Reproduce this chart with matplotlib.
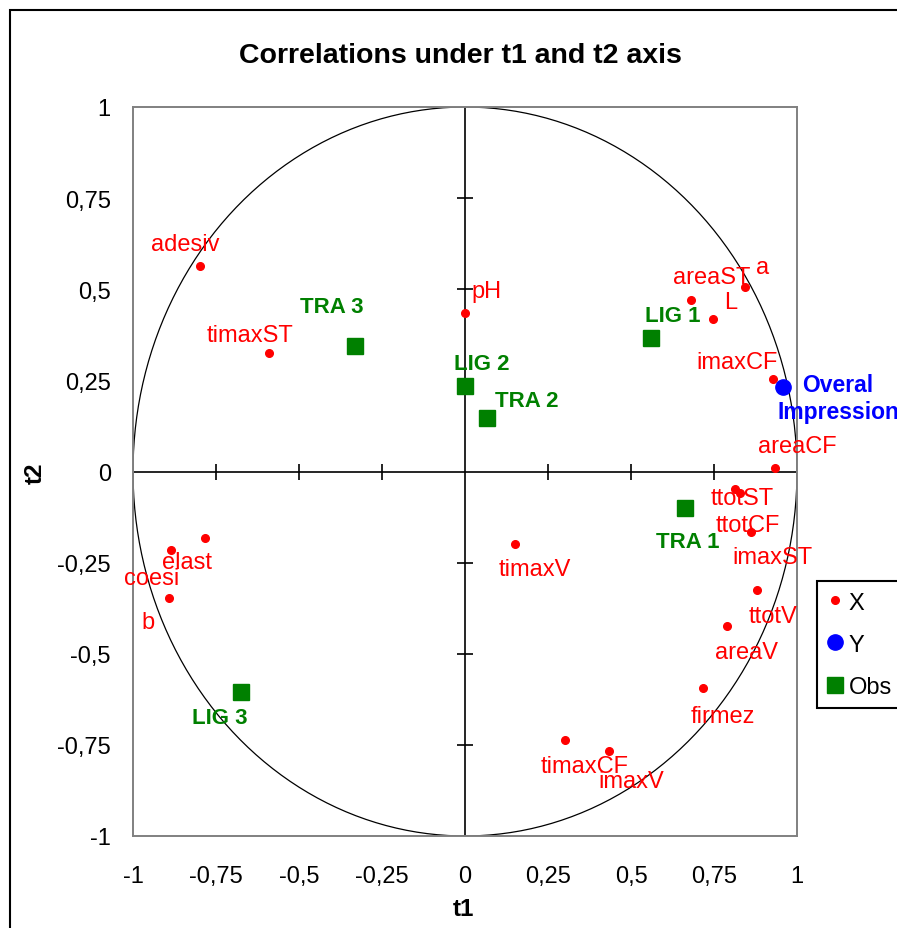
import numpy as np
import matplotlib.pyplot as plt
from matplotlib.patches import Rectangle

plt.rcParams['font.family'] = ['Liberation Sans', 'DejaVu Sans']

# ------------------------
# Data
# ------------------------

# variables X
x_names = ["adesiv", "timaxST", "pH", "areaST", "a", "L", "imaxCF", "areaCF",
           "ttotST", "ttotCF", "imaxST", "ttotV", "areaV", "firmez",
           "timaxCF", "imaxV", "timaxV", "elast", "coesi", "b"]
x_t1 = [-0.798, -0.590, 0.000, 0.681, 0.843, 0.747, 0.928, 0.934,
        0.813, 0.828, 0.861, 0.880, 0.789, 0.717,
        0.301, 0.434, 0.151, -0.783, -0.886, -0.892]
x_t2 = [0.564, 0.325, 0.435, 0.471, 0.506, 0.418, 0.254, 0.010,
        -0.048, -0.059, -0.166, -0.325, -0.424, -0.594,
        -0.737, -0.767, -0.199, -0.182, -0.215, -0.347]

# variable Y
y_names = ["Overal\nImpression"]
y_t1 = [0.958]
y_t2 = [0.232]

# observations
obs_names = ["TRA 3", "LIG 2", "TRA 2", "LIG 1", "TRA 1", "LIG 3"]
obs_t1 = [-0.331, 0.000, 0.066, 0.560, 0.663, -0.675]
obs_t2 = [0.344, 0.235, 0.147, 0.366, -0.100, -0.605]

ticks = [-1, -0.75, -0.5, -0.25, 0, 0.25, 0.5, 0.75, 1]

# label offsets in pixels (dx right, dy down) from each point
x_offsets = [(-15, -22), (-19, -18), (21, -22), (21, -23), (18, -20), (18, -17),
             (-36, -17), (22, -22), (7, 9), (8, 32), (22, 25), (16, 26),
             (20, 26), (20, 28), (20, 26), (22, 30), (20, 25), (-18, 24),
             (-19, 28), (-21, 24)]
y_offsets = [(55, 11)]
obs_offsets = [(-23, -40), (17, -22), (40, -17), (22, -23), (3, 34), (-21, 25)]

RED = "#ff0000"
GREEN = "#008000"
BLUE = "#0000ff"

# ------------------------
# Figure
# ------------------------
W, H = 897, 929
fig = plt.figure(figsize=(W / 100, H / 100), dpi=100)
ax = fig.add_axes([133 / W, (H - 837) / H, (797 - 133) / W, (837 - 108) / H])

# outer frame (extends past the right and bottom edges)
fig.add_artist(Rectangle((10 / W, -0.1), 1.2, 1 - 11 / H + 0.1,
                         transform=fig.transFigure, fill=False,
                         edgecolor="black", lw=1.5))

ax.set_xlim(-1, 1)
ax.set_ylim(-1, 1)
for s in ax.spines.values():
    s.set_color("#808080")
    s.set_linewidth(1.4)

tick_labels = [f"{v:g}".replace(".", ",") for v in ticks]
ax.set_xticks(ticks)
ax.set_xticklabels(tick_labels)
ax.set_yticks(ticks)
ax.set_yticklabels(tick_labels)
ax.tick_params(axis="x", length=0, pad=21, labelsize=17)
ax.tick_params(axis="y", length=0, pad=16, labelsize=17)

# circle of correlations
theta = np.linspace(0, 2 * np.pi, 400)
ax.plot(np.cos(theta), np.sin(theta), color="black", lw=0.9, zorder=2)

# central axes with crossing ticks
ax.plot([-1, 1], [0, 0], color="black", lw=1.2, zorder=2)
ax.plot([0, 0], [-1, 1], color="black", lw=1.2, zorder=2)
inner = [t for t in ticks if t not in (-1, 0, 1)]
ax.plot(inner, [0] * len(inner), ls="none", marker="|", ms=11, mew=1.2,
        color="black", zorder=2)
ax.plot([0] * len(inner), inner, ls="none", marker="_", ms=11, mew=1.2,
        color="black", zorder=2)

# points
hx, = ax.plot(x_t1, x_t2, ls="none", marker="o", ms=5.5, color=RED,
              label="X", zorder=4)
hy, = ax.plot(y_t1, y_t2, ls="none", marker="o", ms=11, color=BLUE,
              label="Y", zorder=4, clip_on=False)
ho, = ax.plot(obs_t1, obs_t2, ls="none", marker="s", ms=11, color=GREEN,
              label="Obs", zorder=4)

# labels
for name, px, py, (dx, dy) in zip(x_names, x_t1, x_t2, x_offsets):
    ax.annotate(name, (px, py), xytext=(dx, -dy), textcoords="offset pixels",
                ha="center", va="center", color=RED, fontsize=17, zorder=5,
                annotation_clip=False)
for name, px, py, (dx, dy) in zip(y_names, y_t1, y_t2, y_offsets):
    ax.annotate(name, (px, py), xytext=(dx, -dy), textcoords="offset pixels",
                ha="center", va="center", color=BLUE, fontsize=16.5,
                fontweight="bold", multialignment="center", linespacing=1.25,
                zorder=5, annotation_clip=False)
for name, px, py, (dx, dy) in zip(obs_names, obs_t1, obs_t2, obs_offsets):
    ax.annotate(name, (px, py), xytext=(dx, -dy), textcoords="offset pixels",
                ha="center", va="center", color=GREEN, fontsize=16,
                fontweight="bold", zorder=5, annotation_clip=False)

# title and axis names
fig.text(460 / W, 1 - 56 / H, "Correlations under t1 and t2 axis",
         ha="center", va="center", fontsize=20.5, fontweight="bold")
fig.text(463 / W, 1 - 910 / H, "t1", ha="center", va="center",
         fontsize=17.5, fontweight="bold")
fig.text(35 / W, 1 - 473 / H, "t2", ha="center", va="center", rotation=90,
         fontsize=17.5, fontweight="bold")

leg = fig.legend(handles=[hx, hy, ho], loc="upper left",
                 bbox_to_anchor=(817 / W, 1 - 582 / H),
                 bbox_transform=fig.transFigure, borderaxespad=0,
                 fontsize=17, frameon=True, fancybox=False, framealpha=1,
                 edgecolor="black", handlelength=0.6, handletextpad=0.3,
                 labelspacing=0.85, borderpad=0.45)
leg.get_frame().set_linewidth(1.5)

fig.savefig("out.png", dpi=100)
